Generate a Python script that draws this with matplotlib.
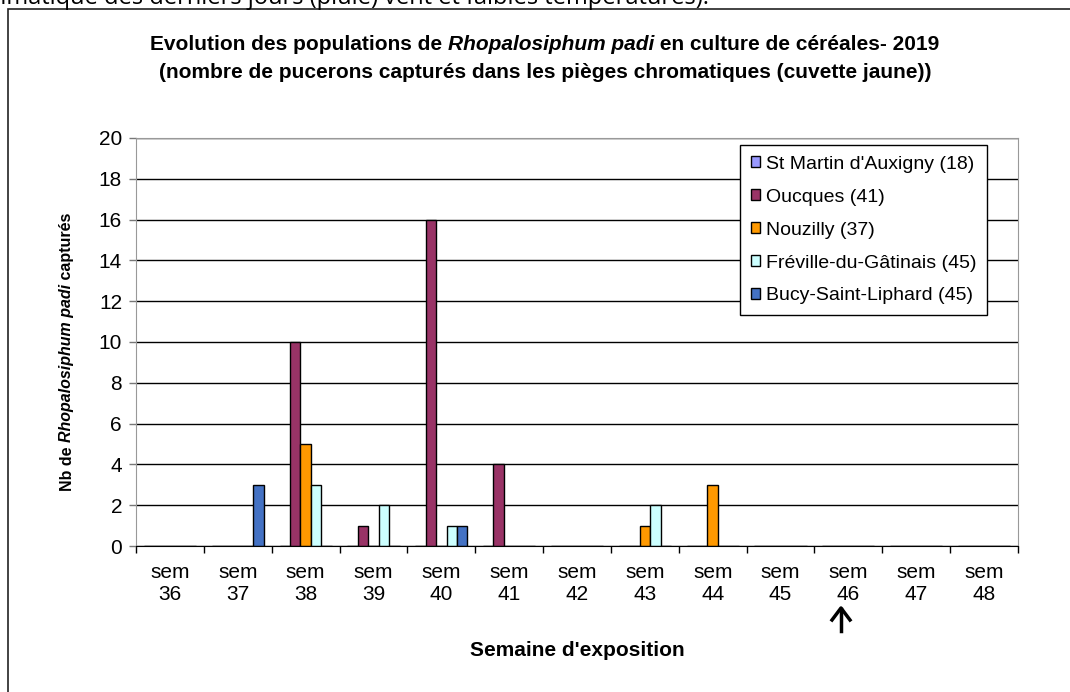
import numpy as np
import matplotlib
matplotlib.use("Agg")
import matplotlib.pyplot as plt
from matplotlib.patches import Rectangle

plt.rcParams["font.family"] = ["Liberation Sans", "DejaVu Sans"]

# ── data ──────────────────────────────────────────────────────────────
weeks = ["36", "37", "38", "39", "40", "41", "42", "43", "44", "45", "46", "47", "48"]
series_names = ["St Martin d'Auxigny (18)", "Oucques (41)", "Nouzilly (37)",
                "Fréville-du-Gâtinais (45)", "Bucy-Saint-Liphard (45)"]
st_martin = [0, 0, 0, 0, 0, 0, 0, 0, 0, 0, 0, 0, 0]
oucques   = [0, 0, 10, 1, 16, 4, 0, 0, 0, 0, 0, 0, 0]
nouzilly  = [0, 0, 5, 0, 0, 0, 0, 1, 3, 0, 0, 0, 0]
freville  = [0, 0, 3, 2, 1, 0, 0, 2, 0, 0, 0, 0, 0]
bucy      = [0, 3, 0, 0, 1, 0, 0, 0, 0, 0, 0, 0, 0]
colors = ["#9999FF", "#993366", "#FF9900", "#CCFFFF", "#4472C4"]

W, H = 1070, 692
fig = plt.figure(figsize=(W / 100, H / 100), dpi=100)
renderer = fig.canvas.get_renderer()


def px(x, y):
    return x / W, 1 - y / H


def run_text(x, y, runs, size, rotation=0):
    """Draw consecutive text pieces (text, style) centred on pixel (x, y)."""
    pieces = []
    for s, style in runs:
        t = fig.text(0, 0, s, fontsize=size, fontweight="bold", fontstyle=style,
                     ha="left", va="center")
        pieces.append((t, t.get_window_extent(renderer).width))
    total = sum(w for _, w in pieces)
    pos = -total / 2
    for t, w in pieces:
        if rotation == 0:
            t.set_position(px(x + pos, y))
        else:
            t.set_rotation(90)
            t.set_ha("center")
            t.set_va("bottom")
            t.set_position(px(x, y - pos))
        pos += w


# outer chart frame (cut by the crop on the right and at the bottom)
fig.patches.append(Rectangle(px(8, 760), (1200 - 8) / W, (760 - 9) / H,
                             transform=fig.transFigure, fill=False,
                             edgecolor="#222222", lw=1.2))
# document text cut off at the top
fig.text(*px(709, 4), "climatique des derniers jours (pluie) vent et faibles températures).",
         fontsize=17, ha="right", va="baseline", family=["Open Sans", "DejaVu Sans"])

ax = fig.add_axes([136 / W, 1 - 546 / H, (1018 - 136) / W, (546 - 138) / H])

x = np.arange(len(weeks))
values = [st_martin, oucques, nouzilly, freville, bucy]
bw = 1 / 6.5
for i, (vals, c, name) in enumerate(zip(values, colors, series_names)):
    ax.bar(x + (i - 2) * bw, vals, bw, color=c, edgecolor="black", lw=1.0,
           label=name, zorder=3)

ax.set_xlim(-0.5, len(weeks) - 0.5)
ax.set_ylim(0, 20)
ax.set_yticks(range(0, 21, 2))
ax.yaxis.grid(True, color="black", lw=1.0, zorder=0)
ax.set_axisbelow(True)
for s in ["left", "right", "top"]:
    ax.spines[s].set_color("#999999")
ax.spines["bottom"].set_color("black")
ax.spines["bottom"].set_zorder(4)

ax.set_xticks(np.arange(len(weeks) + 1) - 0.5)
ax.set_xticklabels([])
ax.set_xticks(x, [f"sem\n{w}" for w in weeks], minor=True)
ax.tick_params(axis="x", which="major", length=5, width=1, color="black", direction="out")
ax.tick_params(axis="x", which="minor", length=0, pad=12, labelsize=15)
ax.tick_params(axis="y", length=5, width=1, color="#777777", labelsize=15, pad=5)
for lab in ax.get_xticklabels(minor=True):
    lab.set_linespacing(1.2)

leg = ax.legend(loc="upper left", bbox_to_anchor=px(740, 145),
                bbox_transform=fig.transFigure, borderaxespad=0, fontsize=14,
                fancybox=False, edgecolor="black", framealpha=1,
                handlelength=0.5, handleheight=0.5, handletextpad=0.3,
                labelspacing=0.82, borderpad=0.55)
leg.get_frame().set_linewidth(1.0)

# titles and labels
run_text(545, 45, [("Evolution des populations de ", "normal"),
                   ("Rhopalosiphum padi", "italic"),
                   (" en culture de céréales- 2019", "normal")], 15)
run_text(545, 72, [("(nombre de pucerons capturés dans les pièges chromatiques (cuvette jaune))",
                    "normal")], 15)
run_text(67, 352, [("Nb de ", "normal"), ("Rhopalosiphum padi", "italic"),
                   (" capturés", "normal")], 11.5, rotation=90)
run_text(577, 650, [("Semaine d'exposition", "normal")], 15)

# arrow below sem 46
fig.add_artist(plt.Line2D([841 / W, 841 / W], [1 - 631 / H, 1 - 609 / H],
                          transform=fig.transFigure, color="black", lw=2.5))
fig.add_artist(plt.Line2D([832 / W, 841 / W, 850 / W],
                          [1 - 620 / H, 1 - 608 / H, 1 - 620 / H],
                          transform=fig.transFigure, color="black", lw=2.5))

fig.savefig("out.png", dpi=100)
